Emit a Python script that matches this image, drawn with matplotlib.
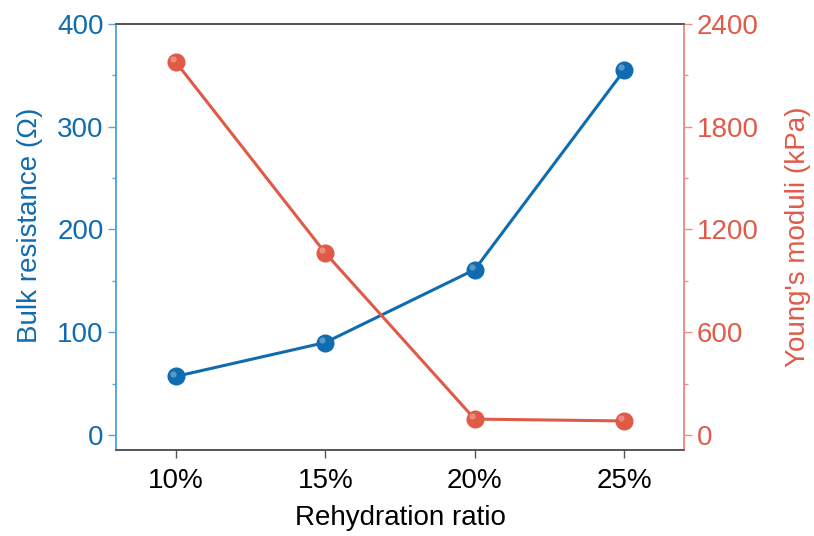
import matplotlib
matplotlib.use("Agg")
import matplotlib.pyplot as plt
import matplotlib.transforms as mtransforms
import numpy as np

# data
ratios = ["10%", "15%", "20%", "25%"]
resistance = [57, 90, 161, 355]        # Ohm
modulus = [2178, 1063, 93, 82]         # kPa

blue = "#0f6cb0"
blue_light = "#5aa6dc"
red = "#e05a48"
red_light = "#f08f80"

plt.rcParams["font.family"] = ["Liberation Sans", "DejaVu Sans"]

fig = plt.figure(figsize=(8.14, 5.36), dpi=100)
ax = fig.add_axes([116 / 814, 1 - 450 / 536, (684 - 116) / 814, (450 - 24) / 536])
ax2 = ax.twinx()

x = np.arange(len(ratios))


def draw_series(axis, y, color):
    axis.plot(x, y, color=color, lw=2.2, zorder=2)
    axis.plot(x, y, ls="none", marker="o", ms=12, color=color, mec=color, zorder=3)
    # small highlight to mimic the shaded spheres
    hl = mtransforms.offset_copy(axis.transData, fig=fig, x=-2.0, y=2.0, units="points")
    axis.plot(x, y, ls="none", marker="o", ms=4.5, color="white", alpha=0.3,
              mec="none", transform=hl, zorder=4)


draw_series(ax, resistance, blue)
draw_series(ax2, modulus, red)

ax.set_xlim(-0.4, 3.4)
ax.set_ylim(-14.6, 400)
ax2.set_ylim(-87.6, 2400)

ax.set_xticks(x)
ax.set_xticklabels(ratios)
ax.set_yticks([0, 100, 200, 300, 400])
ax.set_yticks([50, 150, 250, 350], minor=True)
ax2.set_yticks([0, 600, 1200, 1800, 2400])
ax2.set_yticks([300, 900, 1500, 2100], minor=True)

fs = 20
ax.set_xlabel("Rehydration ratio", fontsize=fs, labelpad=8)
ax.set_ylabel("Bulk resistance (\u03a9)", fontsize=fs, color=blue, labelpad=10)
ax.yaxis.label.set_y(0.528)  # sits a bit above centre in the reference
ax2.set_ylabel("Young's moduli (kPa)", fontsize=fs, color=red, labelpad=19)

ax.tick_params(axis="x", labelsize=fs, length=6, width=1, color="#555555", pad=7)
ax.tick_params(axis="y", which="major", labelsize=fs, labelcolor=blue,
               color=blue_light, length=6, width=1, pad=3)
ax.tick_params(axis="y", which="minor", color=blue_light, length=3, width=1)
ax2.tick_params(axis="y", which="major", labelsize=fs, labelcolor=red,
                color=red_light, length=6, width=1, pad=3)
ax2.tick_params(axis="y", which="minor", color=red_light, length=3, width=1)

for a in (ax, ax2):
    a.spines["top"].set_color("#555555")
    a.spines["bottom"].set_color("#555555")
    a.spines["left"].set_color(blue_light)
    a.spines["right"].set_color(red_light)
    for s in a.spines.values():
        s.set_linewidth(1.2)

fig.savefig("out.png", dpi=100)
